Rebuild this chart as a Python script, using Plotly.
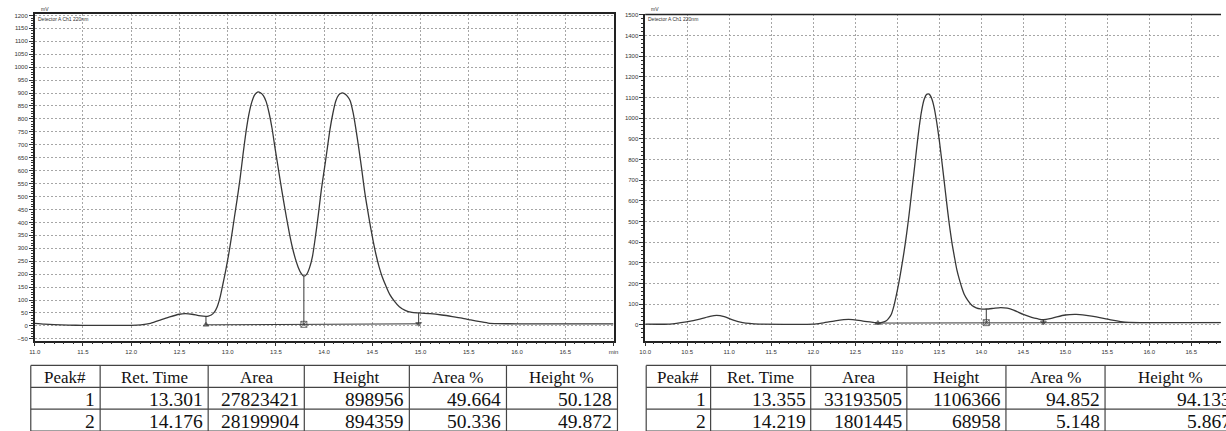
import plotly.graph_objects as go

W, H = 1226, 431

# ---- chromatogram 1 (racemate) : retention time [min], signal [mV]
t1 = [11.00, 11.10, 11.20, 11.35, 11.50, 11.75, 12.00, 12.10, 12.20, 12.30, 12.40, 12.50,
      12.56, 12.63, 12.70, 12.775, 12.80, 12.83, 12.86, 12.89, 12.92, 12.95, 12.98,
      13.01, 13.04, 13.07, 13.10, 13.13, 13.16, 13.19, 13.22, 13.25, 13.28, 13.31,
      13.34, 13.37, 13.40, 13.43, 13.46, 13.49, 13.52, 13.55, 13.58, 13.61, 13.64,
      13.67, 13.70, 13.73, 13.76, 13.79, 13.82, 13.85, 13.88, 13.91, 13.94, 13.97,
      14.00, 14.03, 14.06, 14.09, 14.12, 14.15, 14.18, 14.21, 14.24, 14.27, 14.30,
      14.33, 14.36, 14.39, 14.42, 14.45, 14.48, 14.51, 14.54, 14.57, 14.60, 14.64,
      14.68, 14.73, 14.78, 14.84, 14.91, 14.98, 15.10, 15.22, 15.33, 15.43, 15.52,
      15.60, 15.70, 15.80, 16.00, 16.50, 17.00]
s1 = [10, 7, 5, 3, 2, 2, 2, 4, 10, 22, 35, 45,
      47, 45, 40, 37, 38, 42, 52, 72, 108, 160, 215,
      275, 345, 420, 494, 573, 665, 750, 818, 865, 893, 904,
      901, 890, 866, 822, 764, 690, 620, 550, 482, 418, 358,
      305, 262, 228, 204, 192, 200, 226, 270, 345, 430, 523,
      600, 678, 758, 820, 868, 892, 900, 898, 888, 870, 825,
      760, 685, 605, 520, 450, 385, 325, 272, 228, 192, 155,
      122, 95, 74, 60, 52, 50, 47, 42, 36, 30, 23,
      17, 11, 9, 8, 8, 8]
# integration marks: peak boundaries and baseline
b1_t = [12.775, 13.79, 14.98]
b1_top = [37, 192, 50]
b1_base = [4, 6, 8]

# ---- chromatogram 2 (enriched sample)
t2 = [10.00, 10.29, 10.49, 10.65, 10.77, 10.85, 10.94, 11.04, 11.16, 11.36, 11.75, 12.00,
      12.10, 12.26, 12.42, 12.58, 12.73, 12.77, 12.82, 12.87, 12.90, 12.93, 12.96,
      12.99, 13.02, 13.05, 13.08, 13.11, 13.14, 13.17, 13.20, 13.23, 13.26, 13.29,
      13.32, 13.35, 13.38, 13.41, 13.44, 13.47, 13.50, 13.53, 13.56, 13.59, 13.62,
      13.65, 13.68, 13.71, 13.74, 13.77, 13.80, 13.84, 13.89, 13.94, 13.99, 14.06,
      14.14, 14.23, 14.31, 14.385, 14.50, 14.60, 14.67, 14.74, 14.82, 14.90, 15.00,
      15.13, 15.25, 15.37, 15.47, 15.56, 15.66, 15.76, 16.00, 16.50, 16.85]
s2 = [3, 3, 14, 27, 40, 45, 39, 23, 10, 3, 2, 3,
      8, 19, 26, 19, 10, 8, 11, 19, 32, 51, 90,
      145, 205, 275, 350, 435, 530, 635, 740, 850, 952, 1035,
      1090, 1115, 1116, 1095, 1050, 980, 895, 795, 690, 585, 485,
      400, 330, 265, 218, 178, 145, 118, 93, 82, 77, 76,
      79, 83, 80, 71, 50, 36, 29, 24, 29, 38, 47,
      50, 45, 38, 30, 22, 15, 11, 10, 10, 10]
b2_t = [12.77, 14.06, 14.74]
b2_top = [8, 76, 24]
b2_base = [8, 10, 11]
b2_end_t, b2_end_v = 16.85, 11

# ---- result tables
header = ["Peak#", "Ret. Time", "Area", "Height", "Area %", "Height %"]
tab1_peak = ["1", "2"]
tab1_rt = ["13.301", "14.176"]
tab1_area = ["27823421", "28199904"]
tab1_height = ["898956", "894359"]
tab1_area_pct = ["49.664", "50.336"]
tab1_height_pct = ["50.128", "49.872"]

tab2_peak = ["1", "2"]
tab2_rt = ["13.355", "14.219"]
tab2_area = ["33193505", "1801445"]
tab2_height = ["1106366", "68958"]
tab2_area_pct = ["94.852", "5.148"]
tab2_height_pct = ["94.133", "5.867"]

# ticks
x1_ticks = [11.0, 11.5, 12.0, 12.5, 13.0, 13.5, 14.0, 14.5, 15.0, 15.5, 16.0, 16.5, 17.0]
x1_text = ["11.0", "11.5", "12.0", "12.5", "13.0", "13.5", "14.0", "14.5", "15.0", "15.5",
           "16.0", "16.5", "min"]
x2_ticks = [10.0, 10.5, 11.0, 11.5, 12.0, 12.5, 13.0, 13.5, 14.0, 14.5, 15.0, 15.5, 16.0, 16.5]
x2_text = ["10.0", "10.5", "11.0", "11.5", "12.0", "12.5", "13.0", "13.5", "14.0", "14.5",
           "15.0", "15.5", "16.0", "16.5"]

LINE = "#383838"
GRID = "#a6a6a6"


def px(x):
    return x / W


def py(y):
    return 1 - y / H


fig = go.Figure()

# chromatogram traces
fig.add_trace(go.Scatter(x=t1, y=s1, mode="lines", line=dict(color=LINE, width=1.3, shape="spline", smoothing=0.6),
                         xaxis="x", yaxis="y", hoverinfo="skip"))
fig.add_trace(go.Scatter(x=t2, y=s2, mode="lines", line=dict(color=LINE, width=1.3, shape="spline", smoothing=0.6),
                         xaxis="x2", yaxis="y2", hoverinfo="skip"))

# baselines
fig.add_trace(go.Scatter(x=[b1_t[0], b1_t[-1]], y=[b1_base[0], b1_base[-1]], mode="lines",
                         line=dict(color=LINE, width=1), xaxis="x", yaxis="y", hoverinfo="skip"))
fig.add_trace(go.Scatter(x=[b2_t[0], b2_end_t], y=[b2_base[0], b2_end_v], mode="lines",
                         line=dict(color=LINE, width=1), xaxis="x2", yaxis="y2", hoverinfo="skip"))

# drop lines at peak boundaries
for bt, btop, bbase, xa, ya in [(b1_t, b1_top, b1_base, "x", "y"), (b2_t, b2_top, b2_base, "x2", "y2")]:
    for t, top, base in zip(bt, btop, bbase):
        fig.add_trace(go.Scatter(x=[t, t], y=[top, base], mode="lines", line=dict(color=LINE, width=1),
                                 xaxis=xa, yaxis=ya, hoverinfo="skip"))
    fig.add_trace(go.Scatter(x=bt, y=bbase, mode="markers",
                             marker=dict(symbol=["triangle-up", "square-x-open", "triangle-down"],
                                         size=[5, 6, 5], color=LINE, line=dict(color=LINE, width=1)),
                             xaxis=xa, yaxis=ya, hoverinfo="skip"))

tickfont = dict(family="Arial", size=6, color="#333")
common = dict(showline=True, linecolor="#222", linewidth=1.5, ticks="outside", ticklen=4,
              tickcolor="#333", tickwidth=1, tickfont=tickfont, showgrid=True, gridcolor=GRID,
              griddash="2px,2px", gridwidth=1, zeroline=False)

ydom = [py(341), py(12.5)]
fig.update_layout(
    width=W, height=H, margin=dict(l=0, r=0, t=0, b=0),
    paper_bgcolor="white", plot_bgcolor="white", showlegend=False,
    xaxis=dict(domain=[px(29), px(613)], range=[11.0, 17.0], tickmode="array", tickvals=x1_ticks,
               ticktext=x1_text, mirror=True, anchor="y",
               minor=dict(dtick=0.1, ticks="outside", ticklen=2, tickcolor="#333", showgrid=False),
               **common),
    yaxis=dict(domain=ydom, range=[-57, 1204], dtick=50, tick0=0, mirror=True, anchor="x",
               minor=dict(dtick=10, ticks="outside", ticklen=2, tickcolor="#333", showgrid=False),
               **common),
    xaxis2=dict(domain=[px(645), 1.0], range=[10.0, 16.854], tickmode="array", tickvals=x2_ticks,
                ticktext=x2_text, anchor="y2",
                minor=dict(dtick=0.1, ticks="outside", ticklen=2, tickcolor="#333", showgrid=False),
                **common),
    yaxis2=dict(domain=ydom, range=[-77, 1502], dtick=100, tick0=0, anchor="x2",
                minor=dict(dtick=20, ticks="outside", ticklen=2, tickcolor="#333", showgrid=False),
                **common),
)

# top frame line for the right panel
fig.add_shape(type="line", xref="paper", yref="paper", x0=px(645), x1=1.0, y0=py(12.5), y1=py(12.5),
              line=dict(color="#222", width=1.5))

# panel captions
for x0 in (29, 645):
    fig.add_annotation(xref="paper", yref="paper", x=px(x0 + 4), y=py(2), text="mV", showarrow=False,
                       xanchor="left", yanchor="top", font=dict(family="Arial", size=5, color="#333"))
    fig.add_annotation(xref="paper", yref="paper", x=px(x0 + 1), y=py(12), text="Detector A Ch1 220nm",
                       showarrow=False, xanchor="left", yanchor="top",
                       font=dict(family="Arial", size=5, color="#333"))

# result tables
serif_head = dict(family="Liberation Serif", size=17, color="#111")
serif = dict(family="Liberation Serif", size=19.5, color="#111")
row_y = [366, 388, 410, 432]


def draw_table(edges, columns):
    for y in row_y:
        fig.add_shape(type="line", xref="paper", yref="paper", x0=px(edges[0]), x1=px(edges[-1]),
                      y0=py(y), y1=py(y), line=dict(color="#444", width=1.2))
    for x in edges:
        fig.add_shape(type="line", xref="paper", yref="paper", x0=px(x), x1=px(x),
                      y0=py(row_y[0]), y1=py(row_y[-1]), line=dict(color="#444", width=1.2))
    for i, name in enumerate(header):
        fig.add_annotation(xref="paper", yref="paper", x=px((edges[i] + edges[i + 1]) / 2),
                           y=py((row_y[0] + row_y[1]) / 2 + 1), text=name, showarrow=False,
                           xanchor="center", yanchor="middle", font=serif_head)
    for i, col in enumerate(columns):
        for r, val in enumerate(col):
            fig.add_annotation(xref="paper", yref="paper", x=px(edges[i + 1] - 3),
                               y=py((row_y[r + 1] + row_y[r + 2]) / 2 + 1), text=val, showarrow=False,
                               xanchor="right", yanchor="middle", font=serif)


draw_table([25, 95, 204, 301, 407, 505, 617],
           [tab1_peak, tab1_rt, tab1_area, tab1_height, tab1_area_pct, tab1_height_pct])
draw_table([646, 711, 812, 909, 1009, 1109, 1241],
           [tab2_peak, tab2_rt, tab2_area, tab2_height, tab2_area_pct, tab2_height_pct])

fig.write_html("out.html")
